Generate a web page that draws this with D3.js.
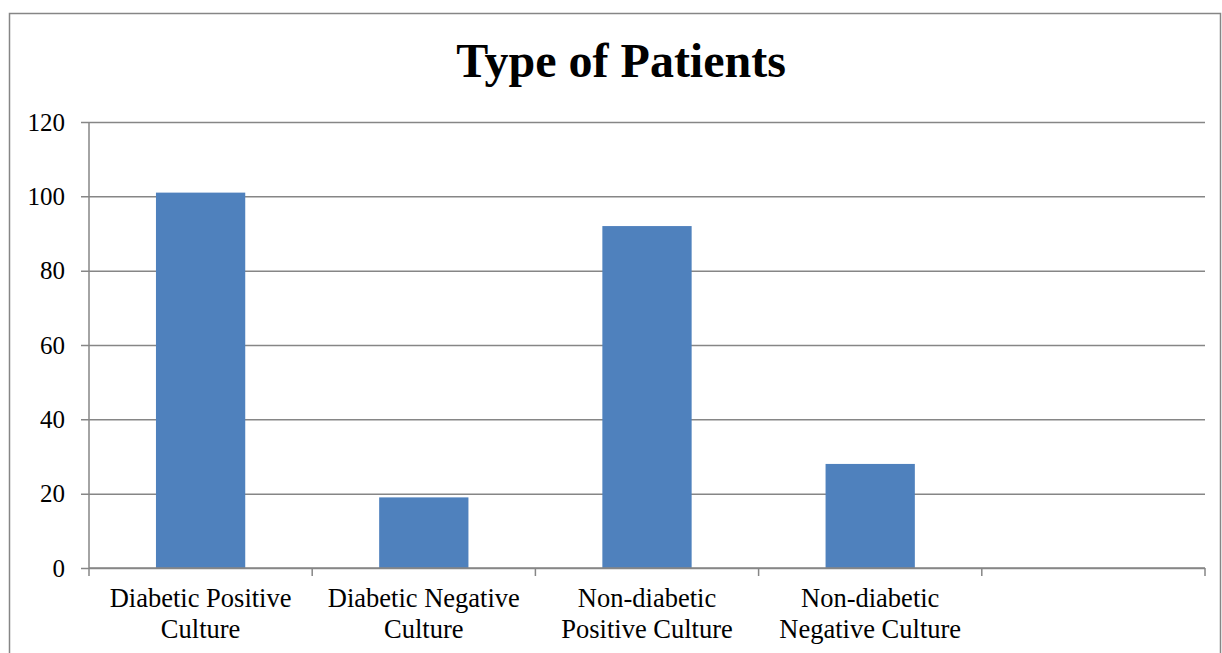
<!DOCTYPE html>
<html>
<head>
<meta charset="utf-8">
<script src="https://cdn.jsdelivr.net/npm/d3@7"></script>
<style>
  html, body { margin: 0; padding: 0; background: #fff; }
  svg { display: block; }
  text { font-family: "Liberation Serif", "Times New Roman", serif; fill: #000; }
</style>
</head>
<body>
<svg id="chart" width="1222" height="653"></svg>
<script>
// Patient groups (the fifth slot is left empty on the category axis)
const categories = [
  ["Diabetic Positive", "Culture"],
  ["Diabetic Negative", "Culture"],
  ["Non-diabetic", "Positive Culture"],
  ["Non-diabetic", "Negative Culture"],
  [""]
];
const patients = [101, 19, 92, 28];
const yTicks = [0, 20, 40, 60, 80, 100, 120];
const title = "Type of Patients";

const svg = d3.select("#chart");
const plot = { left: 89, right: 1205, top: 122, bottom: 568 };
const gridColor = "#868686";

// Outer chart frame
svg.append("rect")
  .attr("x", 9.5).attr("y", 13.5)
  .attr("width", 1211).attr("height", 700)
  .attr("fill", "#fff")
  .attr("stroke", gridColor).attr("stroke-width", 1.5);

// Title
svg.append("text")
  .attr("x", 621).attr("y", 77)
  .attr("text-anchor", "middle")
  .attr("font-size", 48).attr("font-weight", "bold")
  .text(title);

const keys = categories.map((c, i) => i);
const x = d3.scaleBand()
  .domain(keys)
  .range([plot.left, plot.right])
  .paddingInner(0.6)
  .paddingOuter(0.3);

const y = d3.scaleLinear()
  .domain([0, 120])
  .range([plot.bottom, plot.top]);

// Value axis: gridlines across the plot plus short stubs left of the axis
const yAxis = d3.axisLeft(y)
  .tickValues(yTicks)
  .tickSizeInner(-(plot.right - plot.left))
  .tickSizeOuter(0)
  .tickPadding(24)
  .tickFormat(d3.format("d"));

const gy = svg.append("g")
  .attr("transform", `translate(${plot.left},0)`)
  .call(yAxis);
gy.select(".domain").remove();
gy.selectAll(".tick line")
  .attr("x1", -8)
  .attr("stroke", gridColor).attr("stroke-width", 1.5);
gy.selectAll(".tick text")
  .attr("font-size", 25)
  .style("font-family", "'Liberation Serif', 'Times New Roman', serif");

// Bars
svg.append("g")
  .selectAll("rect")
  .data(patients)
  .join("rect")
  .attr("x", (d, i) => x(i))
  .attr("y", d => y(d))
  .attr("width", x.bandwidth())
  .attr("height", d => y(0) - y(d))
  .attr("fill", "#4F81BD");

// Vertical axis line
svg.append("line")
  .attr("x1", plot.left).attr("x2", plot.left)
  .attr("y1", plot.top).attr("y2", plot.bottom)
  .attr("stroke", gridColor).attr("stroke-width", 1.5);

// Category axis: line with tick marks on slot boundaries
const step = x.step();
const boundaries = d3.range(categories.length + 1).map(i => plot.left + i * step);
const gx = svg.append("g");
gx.append("line")
  .attr("x1", plot.left).attr("x2", plot.right)
  .attr("y1", plot.bottom).attr("y2", plot.bottom)
  .attr("stroke", gridColor).attr("stroke-width", 1.5);
gx.selectAll("line.tk")
  .data(boundaries)
  .join("line")
  .attr("class", "tk")
  .attr("x1", d => d).attr("x2", d => d)
  .attr("y1", plot.bottom).attr("y2", plot.bottom + 8)
  .attr("stroke", gridColor).attr("stroke-width", 1.5);

// Category labels (two lines each)
const labels = gx.selectAll("text")
  .data(categories)
  .join("text")
  .attr("text-anchor", "middle")
  .attr("font-size", 26.5)
  .attr("transform", (d, i) => `translate(${x(i) + x.bandwidth() / 2},0)`);
labels.selectAll("tspan")
  .data(d => d)
  .join("tspan")
  .attr("x", 0)
  .attr("y", (d, j) => 607 + j * 30.5)
  .text(d => d);
</script>
</body>
</html>
